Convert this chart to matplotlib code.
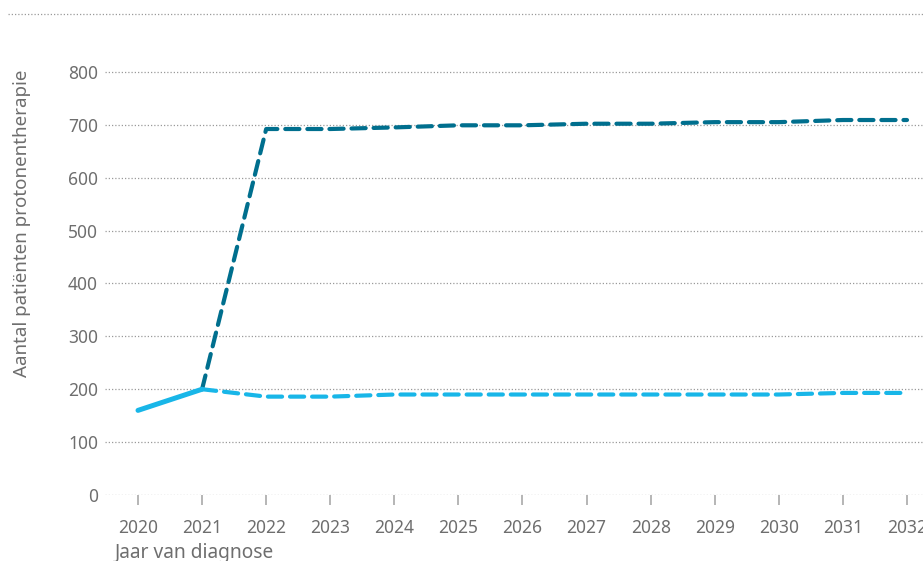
import matplotlib
matplotlib.use("Agg")
import matplotlib.pyplot as plt
from matplotlib.lines import Line2D

# Observed patients (solid) and two projections (dashed)
years_obs = [2020, 2021]
obs = [160, 200]

years_proj = list(range(2021, 2033))
proj_low = [200, 186, 186, 190, 190, 190, 190, 190, 190, 190, 193, 193]
proj_high = [200, 692, 692, 695, 699, 699, 702, 702, 705, 705, 709, 709]

yticks = [0, 100, 200, 300, 400, 500, 600, 700, 800]
xticks = list(range(2020, 2033))

dark = "#006f8e"
light = "#18b6e8"
grey = "#6e6e6e"

plt.rcParams["font.family"] = ["Noto Sans", "DejaVu Sans"]

fig = plt.figure(figsize=(9.23, 5.61), dpi=100)
ax = fig.add_axes([105 / 923, 1 - 495 / 561, (923 - 105) / 923, (495 - 19) / 561])

ax.plot(years_proj, proj_high, color=dark, lw=3.0, dashes=(3.4, 1.9),
        dash_capstyle="round", solid_capstyle="round", zorder=3)
ax.plot(years_proj, proj_low, color=light, lw=3.0, dashes=(3.4, 1.9),
        dash_capstyle="round", solid_capstyle="round", zorder=3)
ax.plot(years_obs, obs, color=light, lw=3.6, solid_capstyle="round", zorder=4)

ax.set_xlim(2019.485, 2032.25)
ax.set_ylim(0, 900)
ax.set_yticks(yticks)
ax.set_xticks(xticks)
ax.set_yticklabels([str(v) for v in yticks])
ax.set_xticklabels([str(v) for v in xticks])

for s in ax.spines.values():
    s.set_visible(False)

for v in yticks:
    ax.axhline(v, color="#9a9a9a", lw=0.9, ls=(0, (1, 1.6)), zorder=1)

ax.tick_params(axis="y", length=0, pad=5, labelsize=12.5, labelcolor=grey)
ax.tick_params(axis="x", length=7, width=1.3, color="#b0b0b0", direction="out",
               pad=10, labelsize=12.5, labelcolor=grey)

ax.set_ylabel("Aantal patiënten protonentherapie", fontsize=13.5, color=grey,
              va="center", ha="center")
ax.yaxis.set_label_coords(-0.1015, 0.571)
ax.set_xlabel("Jaar van diagnose", fontsize=13.8, color=grey)
ax.xaxis.set_label_coords(0.012, -0.1)
ax.xaxis.label.set_horizontalalignment("left")

# Decorative rule across the top of the figure
fig.add_artist(Line2D([8 / 923, 1], [1 - 14 / 561, 1 - 14 / 561], color="#9a9a9a",
                      lw=0.9, ls=(0, (1, 1.6)), transform=fig.transFigure))

fig.savefig("out.png", dpi=100)
